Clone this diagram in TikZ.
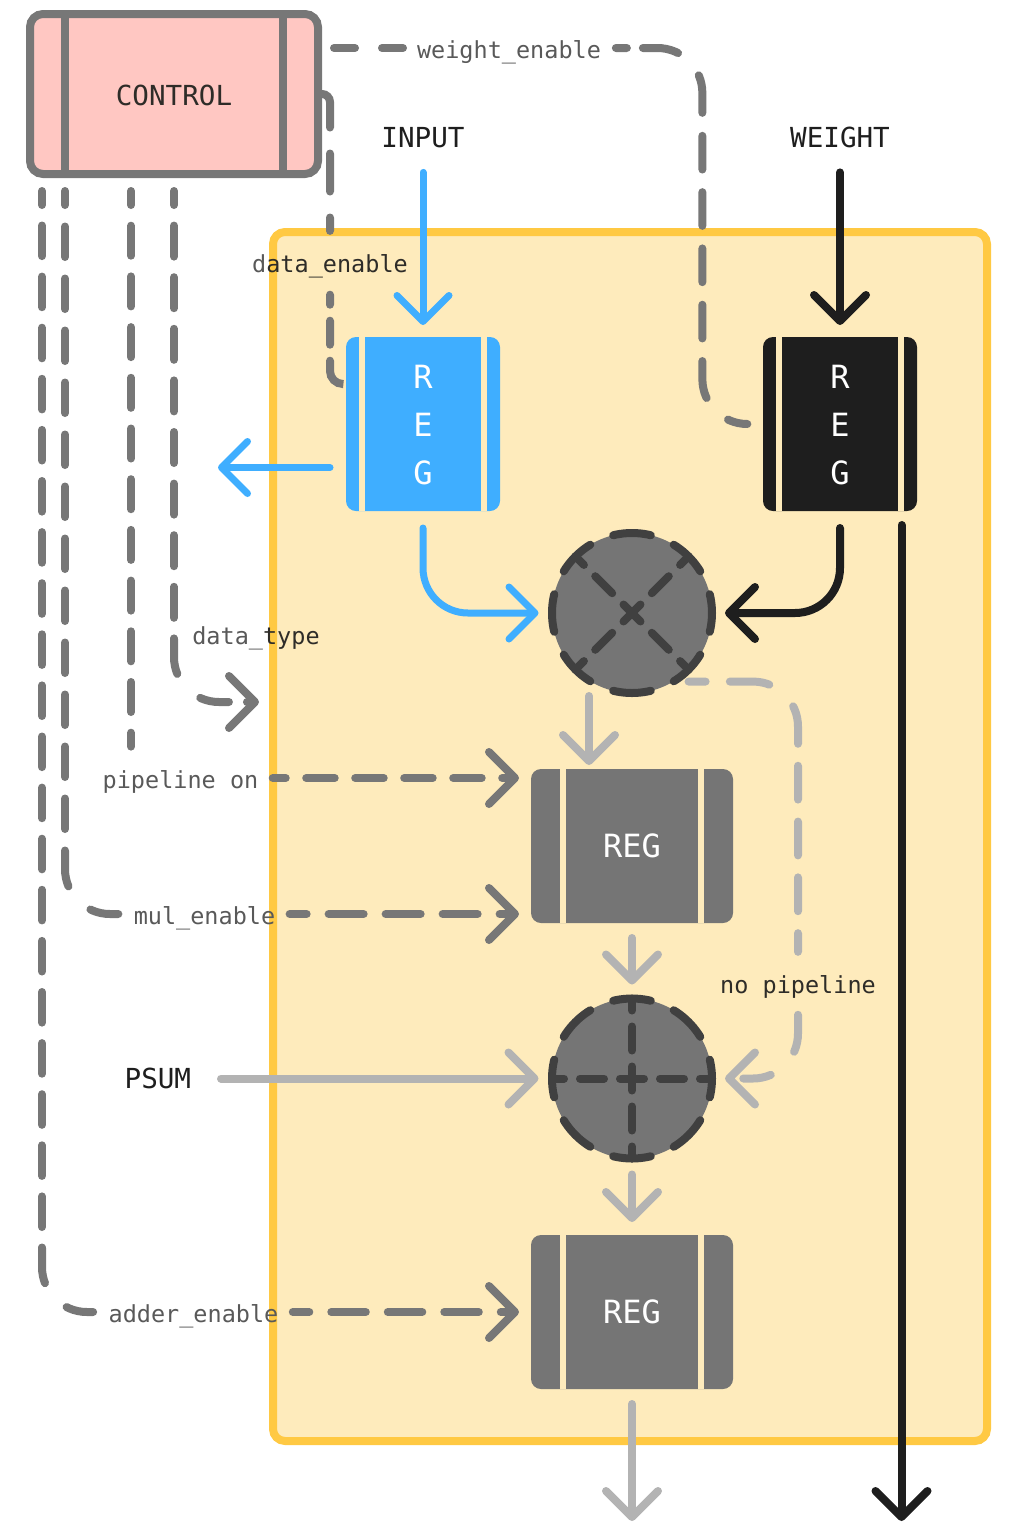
\documentclass[tikz,border=0pt]{standalone}
\usepackage{fontspec}
\setmainfont{DejaVu Sans Mono}
\usetikzlibrary{arrows.meta, positioning}
\definecolor{ctrlgray}{HTML}{777777}
\definecolor{lightline}{HTML}{B3B3B3}
\definecolor{regblue}{HTML}{3FAEFF}
\definecolor{regblack}{HTML}{1E1E1E}
\definecolor{reggray}{HTML}{757575}
\definecolor{opdark}{HTML}{404040}
\definecolor{panelfill}{HTML}{FEEBBC}
\definecolor{paneledge}{HTML}{FFC943}
\definecolor{ctrlfill}{HTML}{FFC7C2}
\definecolor{labgray}{HTML}{595959}
\definecolor{labdark}{HTML}{2E2C28}
\tikzset{barb/.tip={Straight Barb[length=13pt, width=26pt, round]}}

\begin{document}
\begin{tikzpicture}[
  x=0.5pt, y=-0.5pt,
  stripes/.style 2 args={path picture={
    \draw[line width=3pt, #2]
      ([xshift=#1]path picture bounding box.north west) -- ([xshift=#1]path picture bounding box.south west)
      ([xshift=-#1]path picture bounding box.north east) -- ([xshift=-#1]path picture bounding box.south east);}},
  tallreg/.style={rounded corners=5pt, outer sep=0pt, inner sep=0pt, minimum width=77pt, minimum height=87pt, text=white, align=center,
    font=\fontsize{16pt}{24pt}\selectfont, stripes={8pt}{panelfill}},
  widereg/.style={rounded corners=5pt, outer sep=0pt, inner sep=0pt, minimum width=101pt, minimum height=77pt, text=white, fill=reggray,
    font=\fontsize{16pt}{24pt}\selectfont, text height=11.6pt, text depth=0pt, stripes={16pt}{panelfill}},
  opnode/.style={circle, draw=opdark, fill=reggray, line width=4pt, line cap=round, outer sep=0pt, inner sep=0pt, minimum size=80pt,
    dash pattern=on 19pt off 12.416pt, dash phase=9.5pt},
  opline/.style={draw=opdark, line width=4pt, line cap=round, dash pattern=on 12pt off 8pt, dash phase=6pt},
  biglabel/.style={font=\fontsize{13.8pt}{16pt}\selectfont, text=regblack, inner sep=0pt, text height=11.5pt, text depth=1.5pt},
  siglabel/.style={font=\fontsize{11.75pt}{14pt}\selectfont, text=labgray, inner sep=0pt, text height=12pt, text depth=2pt},
  ctrlline/.style={draw=ctrlgray, line width=4pt, line cap=round},
  ctrlflow/.style={ctrlline, -{barb}},
  flowline/.style={-{barb}, line width=4pt, line cap=round}
]
\useasboundingbox (0,0) rectangle (1015,1522);

\node[draw=paneledge, fill=panelfill, line width=4pt, rounded corners=6pt, minimum width=357pt, minimum height=604.5pt, inner sep=0pt] (panel) at (630,836.5) {};
\node[draw=ctrlgray, fill=ctrlfill, line width=4pt, rounded corners=6.5pt, minimum width=144pt, minimum height=80pt, inner sep=0pt,
  font=\fontsize{13.8pt}{16pt}\selectfont, text=labdark, text height=11pt, text depth=0pt, stripes={17.5pt}{ctrlgray, line width=4pt}] (control) at (174,94) {CONTROL};

\node[tallreg, fill=regblue] (regin) at (423,424) {\rule{0pt}{13.2pt}R\\E\\G};
\node[tallreg, fill=regblack, right=131.5pt of regin] (regw) {\rule{0pt}{13.2pt}R\\E\\G};
\node[widereg] (reg1) at (632,846) {REG};
\node[opnode, above=38pt of reg1] (mul) {};
\node[opnode, below=37.75pt of reg1] (add) {};
\node[widereg, below=38.25pt of add] (reg2) {REG};

\node[biglabel] (input) at (423,137) {INPUT};
\node[biglabel] (weight) at (840,137) {WEIGHT};
\node[biglabel, left=180.25pt of add] (psum) {PSUM};
\node[siglabel] (weighten) at (509,48) {weight\_enable};
\node[siglabel] (dataen) at (330,262) {{\color{labgray}d}{\color{labdark}ata\_enable}};
\node[siglabel] (datatype) at (256,634) {data\_{\color{labdark}type}};
\node[siglabel] (pipeon) at (180.5,778) {pipeline on};
\node[siglabel] (mulen) at (204.5,914) {mul\_enable};
\node[siglabel] (adderen) at (193.5,1312) {adder\_enable};
\node[siglabel, text=labdark] (nopipe) at (798,983) {no pipeline};

\coordinate (dataout) at (218,467.5);
\coordinate (weightout) at (901.5,1521);
\coordinate (sumout) at (632,1521);
\coordinate (typeend) at (259,702);
\coordinate (adderbend) at (42,1248);
\coordinate (mulbend) at (65,850.5);
\coordinate (typebend) at (174,639);

\draw[opline] (mul.north west) -- (mul.south east);
\draw[opline] (mul.north east) -- (mul.south west);
\draw[opline] (add.west) -- (add.east);
\draw[opline] (add.north) -- (add.south);

\draw[flowline, regblue, line width=3.5pt, shorten <=11pt, shorten >=6pt] (input.south) -- (regin.north);
\draw[flowline, regblue, line width=3.5pt, shorten <=8pt] ([yshift=-21.75pt]regin.west) -- (dataout);
\draw[flowline, regblue, line width=3.5pt, rounded corners=22.5pt, shorten <=8.5pt, shorten >=6.75pt] (regin.south) |- (mul.west);
\draw[flowline, regblack, shorten <=11pt, shorten >=6pt] (weight.south) -- (regw.north);
\draw[flowline, regblack, rounded corners=22.5pt, shorten <=8.5pt, shorten >=6.5pt] (regw.south) |- (mul.east);
\draw[flowline, regblack, shorten <=7pt] ([xshift=30.75pt]regw.south) -- (weightout);

\draw[flowline, lightline, shorten <=1.5pt, shorten >=2pt] ([xshift=-21.5pt]reg1.north |- mul.south) -- ([xshift=-21.5pt]reg1.north);
\draw[flowline, lightline, shorten <=7.5pt, shorten >=7pt] (reg1.south) -- (add.north);
\draw[flowline, lightline, shorten <=8pt, shorten >=6.5pt] (add.south) -- (reg2.north);
\draw[flowline, lightline, shorten <=7.5pt] (reg2.south) -- (sumout);
\draw[flowline, lightline, shorten <=14.75pt, shorten >=6.75pt] (psum.east) -- (add.west);
\draw[lightline, line width=4pt, line cap=round, rounded corners=22.5pt, shorten >=8.4pt,
  dash pattern=on 8.5pt off 12.15pt on 19.9pt off 16.5pt on 19.1pt off 11pt on 16.9pt off 11pt on 16.9pt off 11pt on 16.9pt off 11pt on 10pt off 40pt]
  ([yshift=-6pt]mul.south east) -| (nopipe.north);
\draw[flowline, lightline, rounded corners=22.5pt, shorten <=8.7pt, shorten >=6.5pt,
  dash pattern=on 18.75pt off 16.8pt on 14pt off 30pt] (nopipe.south) |- (add.east);

\draw[ctrlline, shorten <=6pt, dash pattern=on 10.5pt off 13.5pt] (control.east |- weighten) -- (weighten.west);
\draw[ctrlline, rounded corners=22.5pt, shorten <=7.25pt, shorten >=8.5pt,
  dash pattern=on 5.5pt off 8pt on 18pt off 15.5pt on 19pt off 11.5pt on 16.85pt off 11.3pt on 16.85pt off 11.3pt on 16.85pt off 11.3pt on 16.85pt off 11.3pt on 18.8pt off 15.5pt on 10pt off 30pt]
  (weighten.east) -- ++(101,0) |- (regw.west);

\draw[ctrlline, rounded corners=4pt, shorten >=8.35pt, dash pattern=on 19pt off 13pt] (control.east) -| (dataen.north);
\draw[ctrlline, rounded corners=6.5pt, shorten <=9.15pt, shorten >=2pt, dash pattern=on 5pt off 8pt on 12pt off 8pt on 30pt off 10pt]
  (dataen.south) |- ([yshift=20pt]regin.west);

\draw[ctrlline, shorten <=6.5pt, dash pattern=on 15.3pt off 10.25pt, dash phase=8.3pt] ([xshift=-66pt]control.south) -- (adderbend);
\draw[ctrlline, rounded corners=22.5pt, shorten >=7.5pt, dash pattern=on 17.75pt off 16.5pt on 13.65pt off 30pt] (adderbend) |- (adderen.west);
\draw[ctrlline, shorten <=6.5pt, dash pattern=on 15.25pt off 10.75pt, dash phase=8.25pt] ([xshift=-54.5pt]control.south) -- (mulbend);
\draw[ctrlline, rounded corners=22.5pt, shorten >=7.5pt, dash pattern=on 18.15pt off 16.3pt on 14.5pt off 30pt] (mulbend) |- (mulen.west);
\draw[ctrlline, shorten <=6.5pt, shorten >=8.5pt, dash pattern=on 15pt off 10.35pt, dash phase=8pt] ([xshift=-21.5pt]control.south) -- ([xshift=-21.5pt]control.south |- pipeon.north);
\draw[ctrlline, shorten <=6.5pt, dash pattern=on 15.5pt off 10.3pt, dash phase=8.5pt] (control.south) -- (typebend);
\draw[ctrlflow, rounded corners=22.5pt, dash pattern=on 17.65pt off 17pt on 14.65pt off 9pt on 25pt] (typebend) |- (typeend);

\draw[ctrlflow, shorten <=7pt, shorten >=6pt, dash pattern=on 14.25pt off 10.25pt, dash phase=7.75pt] (pipeon.east) -- (reg1.west |- pipeon);
\draw[ctrlflow, shorten <=7pt, shorten >=6pt, dash pattern=on 17.5pt off 11pt, dash phase=9pt] (mulen.east) -- (reg1.west |- mulen);
\draw[ctrlflow, shorten <=7pt, shorten >=6pt, dash pattern=on 17.25pt off 11pt, dash phase=9pt] (adderen.east) -- (reg2.west |- adderen);
\end{tikzpicture}
\end{document}
